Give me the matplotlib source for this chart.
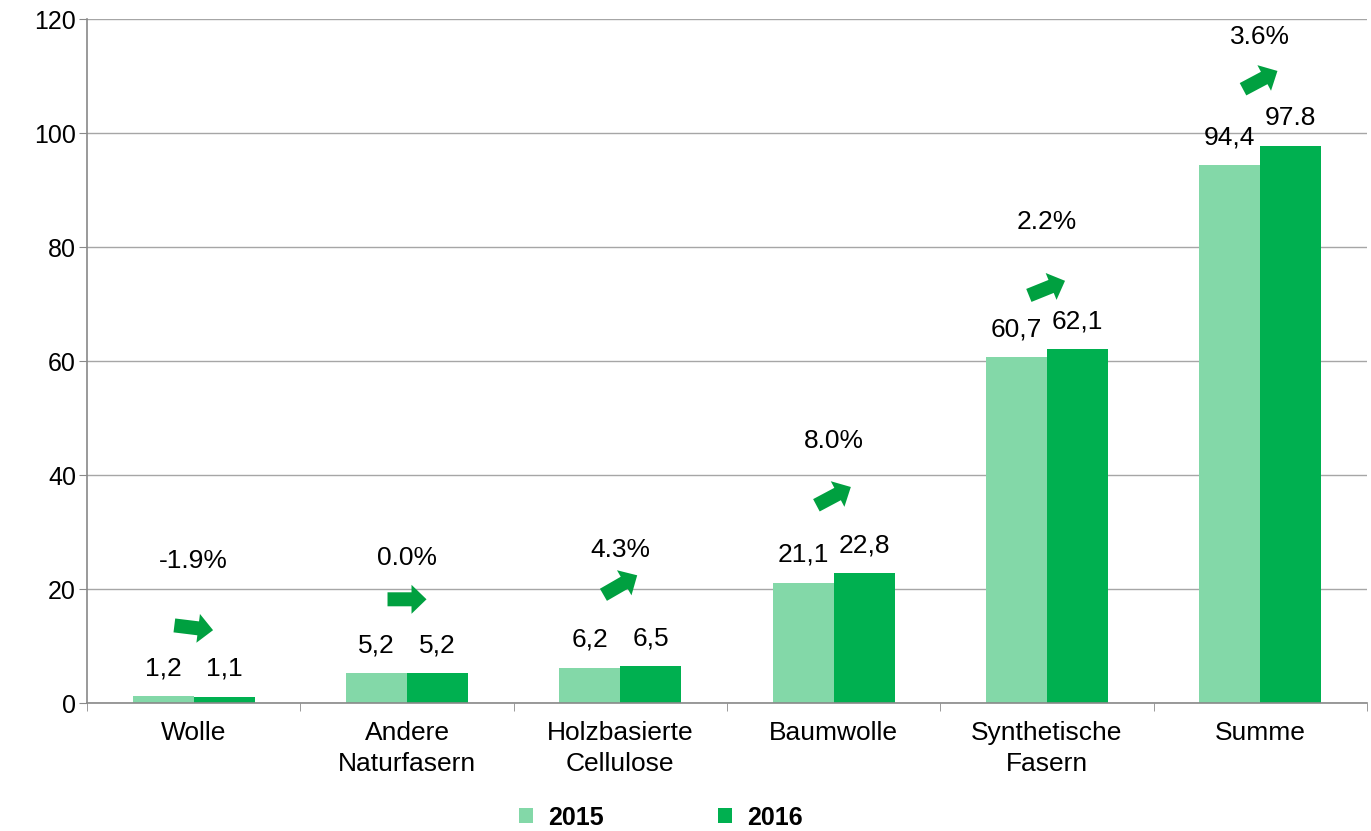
import matplotlib.pyplot as plt
import matplotlib.transforms as mtransforms
from matplotlib.patches import Polygon
import numpy as np

plt.rcParams['font.family'] = ['Liberation Sans', 'DejaVu Sans']

# data
categories = ['Wolle', 'Andere\nNaturfasern', 'Holzbasierte\nCellulose', 'Baumwolle',
              'Synthetische\nFasern', 'Summe']
values_2015 = [1.2, 5.2, 6.2, 21.1, 60.7, 94.4]
values_2016 = [1.1, 5.2, 6.5, 22.8, 62.1, 97.8]
labels_2015 = ['1,2', '5,2', '6,2', '21,1', '60,7', '94,4']
labels_2016 = ['1,1', '5,2', '6,5', '22,8', '62,1', '97.8']
growth_labels = ['-1.9%', '0.0%', '4.3%', '8.0%', '2.2%', '3.6%']
growth_text_y = [24.9, 25.4, 26.8, 46.0, 84.4, 116.8]
arrow_y = [13.2, 18.2, 20.7, 36.3, 72.8, 109.3]
arrow_angle = [-7, 0, 30, 28, 22, 28]

c2015 = '#83D8A8'
c2016 = '#00B050'
c_arrow = '#00A040'
fs = 19

fig = plt.figure(figsize=(13.71, 8.31), dpi=100)
ax = fig.add_axes([0.0635, 0.154, 0.9335, 0.823])

x = np.arange(len(categories))
w = 0.286
ax.bar(x - w / 2, values_2015, w, color=c2015, label='2015', zorder=2)
ax.bar(x + w / 2, values_2016, w, color=c2016, label='2016', zorder=2)

for i in range(len(categories)):
    ax.annotate(labels_2015[i], (x[i] - w / 2, values_2015[i]), xytext=(0, 20),
                textcoords='offset points', ha='center', va='center', fontsize=fs)
    ax.annotate(labels_2016[i], (x[i] + w / 2, values_2016[i]), xytext=(0, 20),
                textcoords='offset points', ha='center', va='center', fontsize=fs)
    ax.text(x[i], growth_text_y[i], growth_labels[i], ha='center', va='center', fontsize=fs)

    # block arrow, shape in inches, centred on the point
    pts = np.array([[-0.195, -0.07], [0.045, -0.07], [0.045, -0.145], [0.195, 0.0],
                    [0.045, 0.145], [0.045, 0.07], [-0.195, 0.07]])
    trans = (mtransforms.Affine2D().rotate_deg(arrow_angle[i]) + fig.dpi_scale_trans +
             mtransforms.ScaledTranslation(x[i], arrow_y[i], ax.transData))
    ax.add_patch(Polygon(pts, closed=True, facecolor=c_arrow, edgecolor='none',
                         transform=trans, zorder=3, clip_on=False))

ax.set_xlim(-0.5, len(categories) - 0.5)
ax.set_ylim(0, 120)
ax.set_yticks(range(0, 121, 20))
ax.set_xticks(x)
ax.set_xticklabels(categories, fontsize=fs, linespacing=1.35)
ax.set_xticks(np.arange(-0.5, len(categories)), minor=True)
ax.tick_params(axis='x', which='major', length=0, pad=13)
ax.tick_params(axis='x', which='minor', length=6, color='#898989')
ax.tick_params(axis='y', length=6, color='#898989', labelsize=18, pad=2)

ax.grid(axis='y', color='#A6A6A6', linewidth=1, zorder=0)
ax.set_axisbelow(True)
for s in ['top', 'right']:
    ax.spines[s].set_visible(False)
for s in ['left', 'bottom']:
    ax.spines[s].set_color('#898989')
    ax.spines[s].set_linewidth(1.2)

leg = fig.legend(loc='center', bbox_to_anchor=(0.482, 0.016), ncol=2, frameon=False,
                 handlelength=0.55, handleheight=0.55, columnspacing=4.6, handletextpad=0.6,
                 borderpad=0.1, prop={'weight': 'bold', 'size': 18})

fig.savefig('out.png', dpi=100)
